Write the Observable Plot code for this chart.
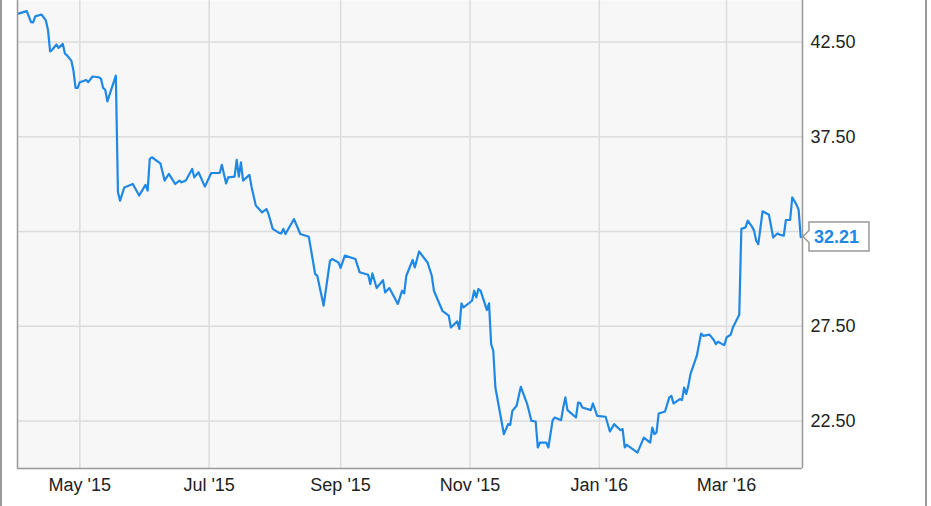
<!DOCTYPE html>
<html><head><meta charset="utf-8">
<script src="https://cdn.jsdelivr.net/npm/d3@7"></script>
<script src="https://cdn.jsdelivr.net/npm/@observablehq/plot@0.6"></script>
<style>
body{margin:0;background:#fff;}
#wrap{position:relative;width:931px;height:506px;overflow:hidden;background:#fff;}
.edge{position:absolute;top:0;width:2px;height:506px;background:#9a9a9a;z-index:2;}
</style></head><body>
<div id="wrap"></div>
<script>
const dates = [
"2015-04-02","2015-04-06","2015-04-08","2015-04-09","2015-04-10","2015-04-13","2015-04-15","2015-04-16","2015-04-17","2015-04-18",
"2015-04-20","2015-04-21","2015-04-23","2015-04-24","2015-04-25","2015-04-27","2015-04-28","2015-04-29","2015-04-30","2015-05-01",
"2015-05-04","2015-05-05","2015-05-07","2015-05-10","2015-05-11","2015-05-12","2015-05-13","2015-05-14","2015-05-18","2015-05-19",
"2015-05-20","2015-05-22","2015-05-26","2015-05-29","2015-06-01","2015-06-02","2015-06-03","2015-06-04","2015-06-08","2015-06-10",
"2015-06-12","2015-06-15","2015-06-17","2015-06-18","2015-06-20","2015-06-23","2015-06-24","2015-06-26","2015-06-29","2015-07-02",
"2015-07-06","2015-07-07","2015-07-09","2015-07-10","2015-07-13","2015-07-14","2015-07-15","2015-07-16","2015-07-17","2015-07-20",
"2015-07-21","2015-07-23","2015-07-26","2015-07-28","2015-07-29","2015-07-31","2015-08-03","2015-08-04","2015-08-05","2015-08-06",
"2015-08-10","2015-08-13","2015-08-17","2015-08-20","2015-08-21","2015-08-24","2015-08-27","2015-08-28","2015-08-31","2015-09-01",
"2015-09-03","2015-09-08","2015-09-10","2015-09-14","2015-09-15","2015-09-16","2015-09-18","2015-09-21","2015-09-22","2015-09-24",
"2015-09-28","2015-09-30","2015-10-01","2015-10-02","2015-10-05","2015-10-06","2015-10-08","2015-10-12","2015-10-14","2015-10-15",
"2015-10-19","2015-10-22","2015-10-23","2015-10-26","2015-10-27","2015-10-28","2015-10-29","2015-11-02","2015-11-03","2015-11-04",
"2015-11-05","2015-11-06","2015-11-09","2015-11-10","2015-11-11","2015-11-12","2015-11-13","2015-11-17","2015-11-19","2015-11-20",
"2015-11-21","2015-11-23","2015-11-25","2015-11-28","2015-11-30","2015-12-02","2015-12-03","2015-12-04","2015-12-07","2015-12-08",
"2015-12-10","2015-12-11","2015-12-14","2015-12-15","2015-12-16","2015-12-17","2015-12-21","2015-12-22","2015-12-23","2015-12-24",
"2015-12-28","2015-12-29","2015-12-31","2016-01-04","2016-01-06","2016-01-08","2016-01-11","2016-01-12","2016-01-13","2016-01-14",
"2016-01-19","2016-01-22","2016-01-25","2016-01-26","2016-01-27","2016-01-28","2016-01-29","2016-02-01","2016-02-03","2016-02-04",
"2016-02-05","2016-02-08","2016-02-09","2016-02-10","2016-02-11","2016-02-12","2016-02-13","2016-02-16","2016-02-18","2016-02-19",
"2016-02-22","2016-02-24","2016-02-25","2016-02-26","2016-02-28","2016-02-29","2016-03-01","2016-03-03","2016-03-04","2016-03-07",
"2016-03-08","2016-03-10","2016-03-11","2016-03-13","2016-03-14","2016-03-15","2016-03-16","2016-03-18","2016-03-21","2016-03-23",
"2016-03-25","2016-03-26","2016-03-28","2016-03-29","2016-03-31","2016-04-01","2016-04-03","2016-04-04","2016-04-05"
];
const values = [
44.00,44.13,43.55,43.53,43.85,43.95,43.64,43.14,42.01,42.09,
42.37,42.19,42.40,41.88,41.79,41.52,41.00,40.08,40.08,40.38,
40.50,40.38,40.68,40.64,40.56,40.08,39.98,39.37,40.73,34.57,
34.13,34.83,35.01,34.40,34.96,34.66,36.33,36.42,36.10,35.19,
35.54,35.01,35.19,35.10,35.19,35.80,35.36,35.63,34.87,35.59,
35.59,36.02,35.04,35.36,35.40,36.28,35.40,36.15,35.19,35.49,
34.87,33.87,33.51,33.69,33.43,32.64,32.43,32.40,32.64,32.37,
33.16,32.37,32.23,30.26,30.17,28.59,30.96,31.05,30.87,30.58,
31.23,31.05,30.35,30.22,29.73,30.29,29.52,29.94,29.29,29.52,
28.68,29.38,29.24,30.17,31.00,30.61,31.45,30.87,30.17,29.38,
28.32,28.06,27.44,27.76,27.36,28.71,28.50,28.85,29.38,29.03,
29.47,29.38,28.36,28.71,26.56,26.21,24.27,21.81,22.34,22.30,
23.04,23.31,24.31,23.40,22.51,22.48,21.11,21.37,21.37,21.11,
22.55,22.69,22.55,23.22,23.75,23.08,22.69,23.48,23.45,23.22,
23.08,23.43,22.78,22.73,21.95,22.34,22.02,22.08,21.11,21.25,
20.84,21.63,21.37,22.16,21.81,21.90,22.90,23.01,23.75,23.83,
23.43,23.66,23.61,24.27,23.93,24.36,24.98,25.95,27.12,27.00,
27.06,26.78,26.56,26.69,26.56,26.51,26.91,27.06,27.44,28.11,
32.64,32.72,33.08,32.76,32.55,32.02,31.84,33.57,33.39,32.19,
32.40,32.34,32.28,33.11,33.11,34.31,33.92,33.64,32.21
];
const yTicks = [22.5, 27.5, 32.5, 37.5, 42.5];
const xTicks = ["2015-05-01","2015-07-01","2015-09-01","2015-11-01","2016-01-01","2016-03-01"];
const lastValue = 32.21;
const lineColor = "#1f88e5";

const data = dates.map((d, i) => ({date: new Date(d), value: values[i]}));
const xDomain = [new Date("2015-04-01T15:00Z"), new Date("2016-04-05T20:00Z")];
const yDomain = [20, 44.69];
const xTickDates = xTicks.map(d => new Date(d));
// the 32.50 label is hidden behind the last-value box in the reference
const yLabelTicks = yTicks.filter(t => Math.abs(t - lastValue) > 1);

const valueBox = (index, scales, values, dims) => {
  const g = d3.create("svg:g");
  const y = scales.y(lastValue);
  const bx = dims.width - dims.marginRight + 7;
  const w = 60, h = 29;
  g.append("path")
    .attr("d", `M${bx},${y - h/2}H${bx + w}V${y + h/2}H${bx}V${y + 6}L${bx - 6},${y}L${bx},${y - 6}Z`)
    .attr("fill", "#fff").attr("stroke", "#999").attr("stroke-width", 1.5);
  g.append("text")
    .attr("x", bx + 5).attr("y", y).attr("dy", "0.36em")
    .attr("text-anchor", "start")
    .attr("fill", lineColor).attr("font-weight", "bold").attr("font-size", 18)
    .text(lastValue.toFixed(2));
  return g.node();
};

const chart = Plot.plot({
  width: 931, height: 506,
  marginLeft: 17, marginRight: 129, marginTop: 0, marginBottom: 38,
  style: {fontFamily: "'Liberation Sans', Arial, sans-serif", fontSize: "18px", color: "#222", background: "transparent", overflow: "visible"},
  x: {type: "utc", domain: xDomain, label: null},
  y: {domain: yDomain, label: null},
  marks: [
    Plot.frame({fill: "#f7f7f7", stroke: null}),
    Plot.ruleX(xTickDates, {stroke: "#dcdcdc", strokeWidth: 1.5}),
    Plot.ruleY(yTicks, {stroke: "#dcdcdc", strokeWidth: 1.5}),
    Plot.lineY(data, {x: "date", y: "value", stroke: lineColor, strokeWidth: 2.2}),
    Plot.ruleX(xDomain, {stroke: "#999", strokeWidth: 1.5}),
    Plot.ruleY([yDomain[0]], {stroke: "#999", strokeWidth: 1.5}),
    Plot.axisX(xTickDates, {tickFormat: d3.utcFormat("%b '%y"), tickSize: 0, tickPadding: 10, label: null}),
    Plot.axisY(yLabelTicks, {anchor: "right", tickFormat: d3.format(".2f"), tickSize: 0, tickPadding: 8, label: null}),
    valueBox
  ]
});
const wrap = document.getElementById("wrap");
wrap.appendChild(chart);
for (const left of [0, 925]) {
  const e = document.createElement("div");
  e.className = "edge"; e.style.left = left + "px";
  wrap.appendChild(e);
}
</script>
</body></html>
